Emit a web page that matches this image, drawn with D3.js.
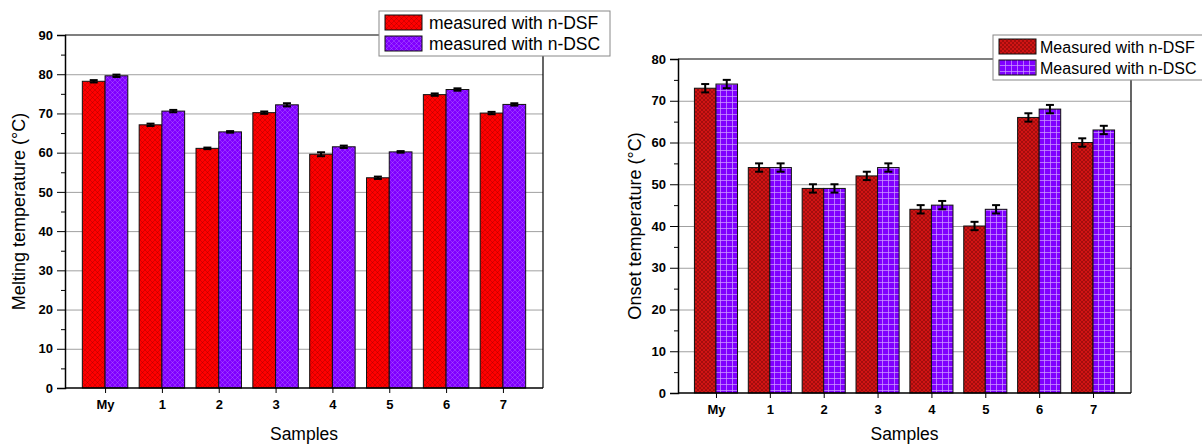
<!DOCTYPE html>
<meta charset="utf-8">
<style>
body { margin: 0; background: #fff; }
svg { font-family: Arial, "Liberation Sans", sans-serif; }
.tick text { font-weight: bold; font-size: 13px; fill: #000; }
.domain, .tick line { stroke: #000; }
.grid line { stroke: #a0a0a0; stroke-width: 1px; }
.grid .domain { display: none; }
</style>
<svg width="1202" height="444"></svg>
<script src="https://d3js.org/d3.v7.min.js"></script>
<script>

var samples = ["My", "1", "2", "3", "4", "5", "6", "7"];

// left panel: melting temperature
var meltDSF = [78.2, 67.1, 61.1, 70.2, 59.6, 53.6, 74.8, 70.1];
var meltDSC = [79.6, 70.6, 65.3, 72.2, 61.5, 60.2, 76.1, 72.3];
var meltErrDSF = [0.3, 0.3, 0.2, 0.3, 0.5, 0.3, 0.3, 0.3];
var meltErrDSC = [0.3, 0.3, 0.2, 0.4, 0.3, 0.2, 0.3, 0.3];

// right panel: onset temperature
var onsetDSF = [73, 54, 49, 52, 44, 40, 66, 60];
var onsetDSC = [74, 54, 49, 54, 45, 44, 68, 63];
var onsetErrDSF = [1, 1, 1, 1, 1, 1, 1, 1];
var onsetErrDSC = [1, 1, 1, 1, 1, 1, 1, 1];

var svg = d3.select("svg");
var defs = svg.append("defs");

// hatch patterns
function crossHatch(id, fill, stroke, size, opacity) {
  var p = defs.append("pattern").attr("id", id)
      .attr("patternUnits", "userSpaceOnUse")
      .attr("width", size).attr("height", size);
  p.append("rect").attr("width", size).attr("height", size).attr("fill", fill);
  p.append("path")
      .attr("d", "M0,0L" + size + "," + size + "M" + size + ",0L0," + size)
      .attr("stroke", stroke).attr("stroke-width", 0.7).attr("stroke-opacity", opacity);
}
function squareGrid(id, fill, stroke, size, opacity) {
  var p = defs.append("pattern").attr("id", id)
      .attr("patternUnits", "userSpaceOnUse")
      .attr("width", size).attr("height", size);
  p.append("rect").attr("width", size).attr("height", size).attr("fill", fill);
  p.append("path")
      .attr("d", "M0,0.5H" + size + "M0.5,0V" + size)
      .attr("stroke", stroke).attr("stroke-width", 1).attr("stroke-opacity", opacity);
}
crossHatch("redL", "#ff0000", "#800000", 5, 0.45);
crossHatch("purL", "#8000ff", "#c080ff", 5, 0.5);
crossHatch("redR", "#d01414", "#500000", 4, 0.5);
squareGrid("purR", "#8000ff", "#d0a0ff", 6, 0.7);

function drawPanel(cfg) {
  var x = d3.scaleLinear().domain([-0.705, samples.length - 1 + 0.705]).range([cfg.x0, cfg.x1]);
  var y = d3.scaleLinear().domain([0, cfg.yMax]).range([cfg.y1, cfg.y0]);
  var step = x(1) - x(0);
  var bw = step * 0.4;
  var g = svg.append("g");

  // gridlines
  g.append("g").attr("class", "grid")
      .attr("transform", "translate(" + cfg.x0 + ",0)")
      .call(d3.axisLeft(y).tickValues(d3.range(10, cfg.yMax, 10)).tickSize(-(cfg.x1 - cfg.x0)).tickFormat(""));

  // frame top + right
  g.append("path")
      .attr("d", "M" + cfg.x0 + "," + cfg.y0 + "H" + cfg.x1 + "V" + cfg.y1)
      .attr("fill", "none").attr("stroke", "#000").attr("stroke-width", 1.2);

  var series = [
    { vals: cfg.a, err: cfg.ea, fill: "url(#" + cfg.pa + ")", off: -1 },
    { vals: cfg.b, err: cfg.eb, fill: "url(#" + cfg.pb + ")", off: 0 }
  ];
  series.forEach(function(s) {
    g.append("g").selectAll("rect")
      .data(s.vals)
      .enter().append("rect")
        .attr("x", function(d, i) { return x(i) + s.off * bw; })
        .attr("y", function(d) { return y(d); })
        .attr("width", bw)
        .attr("height", function(d) { return y(0) - y(d); })
        .attr("fill", s.fill)
        .attr("stroke", "#111").attr("stroke-width", 1);
  });
  series.forEach(function(s) {
    var eg = g.append("g").attr("stroke", "#000").attr("stroke-width", 2);
    s.vals.forEach(function(d, i) {
      var cx = x(i) + s.off * bw + bw / 2;
      var hi = y(d + s.err[i]), lo = y(d - s.err[i]);
      eg.append("line").attr("x1", cx).attr("x2", cx).attr("y1", hi).attr("y2", lo);
      eg.append("line").attr("x1", cx - 4).attr("x2", cx + 4).attr("y1", hi).attr("y2", hi);
      eg.append("line").attr("x1", cx - 4).attr("x2", cx + 4).attr("y1", lo).attr("y2", lo);
    });
  });

  // axes
  var ya = g.append("g").attr("transform", "translate(" + cfg.x0 + ",0)")
      .call(d3.axisLeft(y).ticks(cfg.yMax / 10).tickSize(8).tickPadding(4));
  ya.select(".domain").attr("stroke-width", 1.5);
  g.append("g").attr("transform", "translate(" + cfg.x0 + ",0)")
      .call(d3.axisLeft(y).tickValues(d3.range(5, cfg.yMax, 10)).tickSize(4).tickFormat(""))
      .select(".domain").remove();

  var xa = g.append("g").attr("transform", "translate(0," + cfg.y1 + ")")
      .call(d3.axisBottom(x).tickValues(d3.range(samples.length)).tickSize(5).tickPadding(7)
        .tickFormat(function(i) { return samples[i]; }));
  xa.select(".domain").attr("stroke-width", 1.5).attr("d", "M" + cfg.x0 + ",0H" + cfg.x1);

  // axis titles
  g.append("text")
      .attr("transform", "translate(" + cfg.ytx + "," + (cfg.y0 + cfg.y1) / 2 + ") rotate(-90)")
      .attr("text-anchor", "middle").attr("font-size", 18).text(cfg.ytitle);
  g.append("text")
      .attr("x", (cfg.x0 + cfg.x1) / 2).attr("y", cfg.xty)
      .attr("text-anchor", "middle").attr("font-size", 17.5).text("Samples");

  // legend
  var lg = g.append("g").attr("transform", "translate(" + cfg.lx + "," + cfg.ly + ")");
  lg.append("rect").attr("width", cfg.lw).attr("height", 45)
      .attr("fill", "#fff").attr("stroke", "#888").attr("stroke-width", 1);
  [[cfg.pa, cfg.la], [cfg.pb, cfg.lb]].forEach(function(e, i) {
    lg.append("rect").attr("x", 6).attr("y", 4 + i * 21).attr("width", 37).attr("height", 15)
        .attr("fill", "url(#" + e[0] + ")").attr("stroke", "#111");
    lg.append("text").attr("x", cfg.ltx).attr("y", 18 + i * 21).attr("font-size", cfg.lfs).text(e[1]);
  });
}

drawPanel({
  x0: 65, x1: 543, y0: 35, y1: 388, yMax: 90,
  a: meltDSF, b: meltDSC, ea: meltErrDSF, eb: meltErrDSC, pa: "redL", pb: "purL",
  ytitle: "Melting temperature (°C)", ytx: 25, xty: 440,
  lx: 379, ly: 11, lw: 231, ltx: 50, lfs: 17.5,
  la: "measured with n-DSF", lb: "measured with n-DSC"
});

drawPanel({
  x0: 678, x1: 1131, y0: 59, y1: 393, yMax: 80,
  a: onsetDSF, b: onsetDSC, ea: onsetErrDSF, eb: onsetErrDSC, pa: "redR", pb: "purR",
  ytitle: "Onset temperature (°C)", ytx: 641, xty: 440,
  lx: 993, ly: 35, lw: 215, ltx: 47, lfs: 16,
  la: "Measured with n-DSF", lb: "Measured with n-DSC"
});

</script>
